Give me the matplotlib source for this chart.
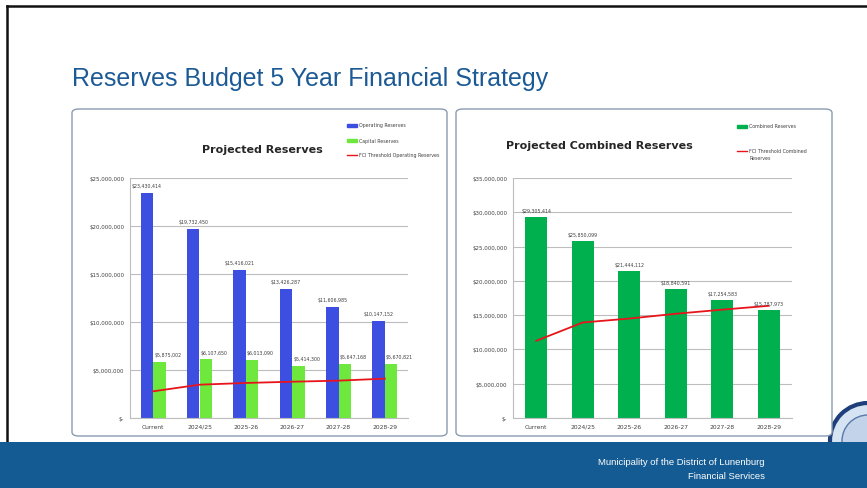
import matplotlib.pyplot as plt
import numpy as np
from matplotlib.patches import FancyBboxPatch, Rectangle, Ellipse
from matplotlib.lines import Line2D
from matplotlib.ticker import FuncFormatter

# data
years = ['Current', '2024/25', '2025-26', '2026-27', '2027-28', '2028-29']
operating = [23430414, 19732450, 15416021, 13426287, 11606985, 10147152]
capital = [5875002, 6107650, 6013090, 5414300, 5647168, 5670821]
fci_operating = [2780000, 3470000, 3650000, 3780000, 3890000, 4100000]
combined = [29305414, 25850099, 21444112, 18840591, 17254583, 15787973]
fci_combined = [11260000, 13930000, 14500000, 15200000, 15800000, 16360000]

W, H = 867, 489
fig = plt.figure(figsize=(W / 100, H / 100), dpi=100)
fig.patch.set_facecolor('white')


def fx(x):
    return x / W


def fy(y):
    return 1 - y / H


def money(v, pos=None):
    if v == 0:
        return '$-'
    return '${:,.0f}'.format(v)


# slide frame
fig.add_artist(Line2D([fx(7), 1], [fy(7), fy(7)], color='#111111', lw=1.8))
fig.add_artist(Line2D([fx(7), fx(7)], [fy(7), fy(443)], color='#111111', lw=1.8))

# seal in the corner (partly hidden behind the panel and footer)
fig.add_artist(Ellipse((fx(868), fy(442)), 76 / W, 76 / H, transform=fig.transFigure,
                       facecolor='#d6e3f2', edgecolor='#1f3f7a', lw=3, zorder=0.5))
fig.add_artist(Ellipse((fx(868), fy(442)), 52 / W, 52 / H, transform=fig.transFigure,
                       facecolor='#c3d4ea', edgecolor='#5a78a8', lw=1, zorder=0.6))

# footer band
fig.add_artist(Rectangle((0, 0), 1, fy(443), transform=fig.transFigure,
                         facecolor='#135b92', edgecolor='none', zorder=2))
fig.text(fx(765), fy(463), 'Municipality of the District of Lunenburg', color='white',
         fontsize=6.8, family='Liberation Sans', ha='right', va='center', zorder=3)
fig.text(fx(765), fy(477), 'Financial Services', color='white',
         fontsize=6.8, family='Liberation Sans', ha='right', va='center', zorder=3)

# slide title
fig.text(fx(72), fy(79), 'Reserves Budget 5 Year Financial Strategy', color='#1c5a96',
         fontsize=18, family='Liberation Sans', ha='left', va='center')

# chart panels
for x0, x1 in [(72, 447), (456, 832)]:
    fig.add_artist(FancyBboxPatch((fx(x0), fy(437)), fx(x1 - x0), fy(110) - fy(437),
                                  boxstyle='round,pad=0,rounding_size=0.008',
                                  transform=fig.transFigure, facecolor='white',
                                  edgecolor='#8a9bb0', lw=1.0, zorder=1))


def style_axes(ax, top):
    ax.set_facecolor('none')
    ax.set_ylim(0, top)
    ax.set_xlim(-0.5, 5.5)
    ax.yaxis.set_major_formatter(FuncFormatter(money))
    ax.grid(axis='y', color='#bdbdbd', lw=0.8)
    ax.set_axisbelow(True)
    for s in ['top', 'right']:
        ax.spines[s].set_visible(False)
    ax.spines['left'].set_color('#bdbdbd')
    ax.spines['bottom'].set_color('#bdbdbd')
    ax.tick_params(axis='y', length=0, labelsize=4, labelcolor='#404040', pad=4)
    ax.tick_params(axis='x', length=0, labelsize=4.3, labelcolor='#404040', pad=4)
    ax.set_xticks(range(len(years)))
    ax.set_xticklabels(years)


x = np.arange(len(years))

# left chart: Projected Reserves
ax1 = fig.add_axes([fx(130), fy(419), fx(408 - 130), fy(179) - fy(419)], zorder=3)
style_axes(ax1, 25000000)
bw = 0.27
b1 = ax1.bar(x - bw / 2, operating, bw, color='#3c4fe0', label='Operating Reserves')
b2 = ax1.bar(x + bw / 2, capital, bw, color='#6ee83c', label='Capital Reserves')
ax1.plot(x, fci_operating, color='#e8141c', lw=1.3, label='FCI Threshold Operating Reserves')
for r, v in zip(b1, operating):
    ax1.text(r.get_x() + r.get_width() / 2, v + 500000, money(v), fontsize=3.4,
             color='#404040', ha='center', va='bottom')
for r, v in zip(b2, capital):
    ax1.text(r.get_x() + r.get_width() / 2 + 0.18, v + 500000, money(v), fontsize=3.4,
             color='#404040', ha='center', va='bottom')
fig.text(fx(262), fy(150), 'Projected Reserves', fontsize=8, fontweight='bold',
         color='#262626', ha='center', va='center', zorder=4)
leg1 = [('Operating Reserves', 'patch', '#3c4fe0', 126),
        ('Capital Reserves', 'patch', '#6ee83c', 141),
        ('FCI Threshold Operating Reserves', 'line', '#e8141c', 156)]

# right chart: Projected Combined Reserves
ax2 = fig.add_axes([fx(513), fy(419), fx(792 - 513), fy(179) - fy(419)], zorder=3)
style_axes(ax2, 35000000)
b3 = ax2.bar(x, combined, 0.48, color='#00b04f', label='Combined Reserves')
ax2.plot(x, fci_combined, color='#e8141c', lw=1.3, label='FCI Threshold Combined Reserves')
for r, v in zip(b3, combined):
    ax2.text(r.get_x() + r.get_width() / 2, v + 600000, money(v), fontsize=3.4,
             color='#404040', ha='center', va='bottom')
fig.text(fx(599), fy(146), 'Projected Combined Reserves', fontsize=8, fontweight='bold',
         color='#262626', ha='center', va='center', zorder=4)
leg2 = [('Combined Reserves', 'patch', '#00b04f', 127),
        ('FCI Threshold Combined\nReserves', 'line', '#e8141c', 152)]

# tiny legends placed like the original
for items, px in [(leg1, 347), (leg2, 737)]:
    for label, kind, col, py in items:
        if kind == 'patch':
            fig.add_artist(Rectangle((fx(px), fy(py) - 1.5 / H), fx(10), 3 / H,
                                     transform=fig.transFigure, color=col, zorder=4))
        else:
            fig.add_artist(Line2D([fx(px), fx(px + 10)], [fy(py), fy(py)],
                                  color=col, lw=1, zorder=4))
        if '\n' in label:
            fig.text(fx(px + 12), fy(py) + 3 / H, label, fontsize=3.4, color='#404040',
                     ha='left', va='top', zorder=4, linespacing=1.6)
        else:
            fig.text(fx(px + 12), fy(py), label, fontsize=3.4, color='#404040',
                     ha='left', va='center', zorder=4)

fig.savefig('out.png', dpi=100)
